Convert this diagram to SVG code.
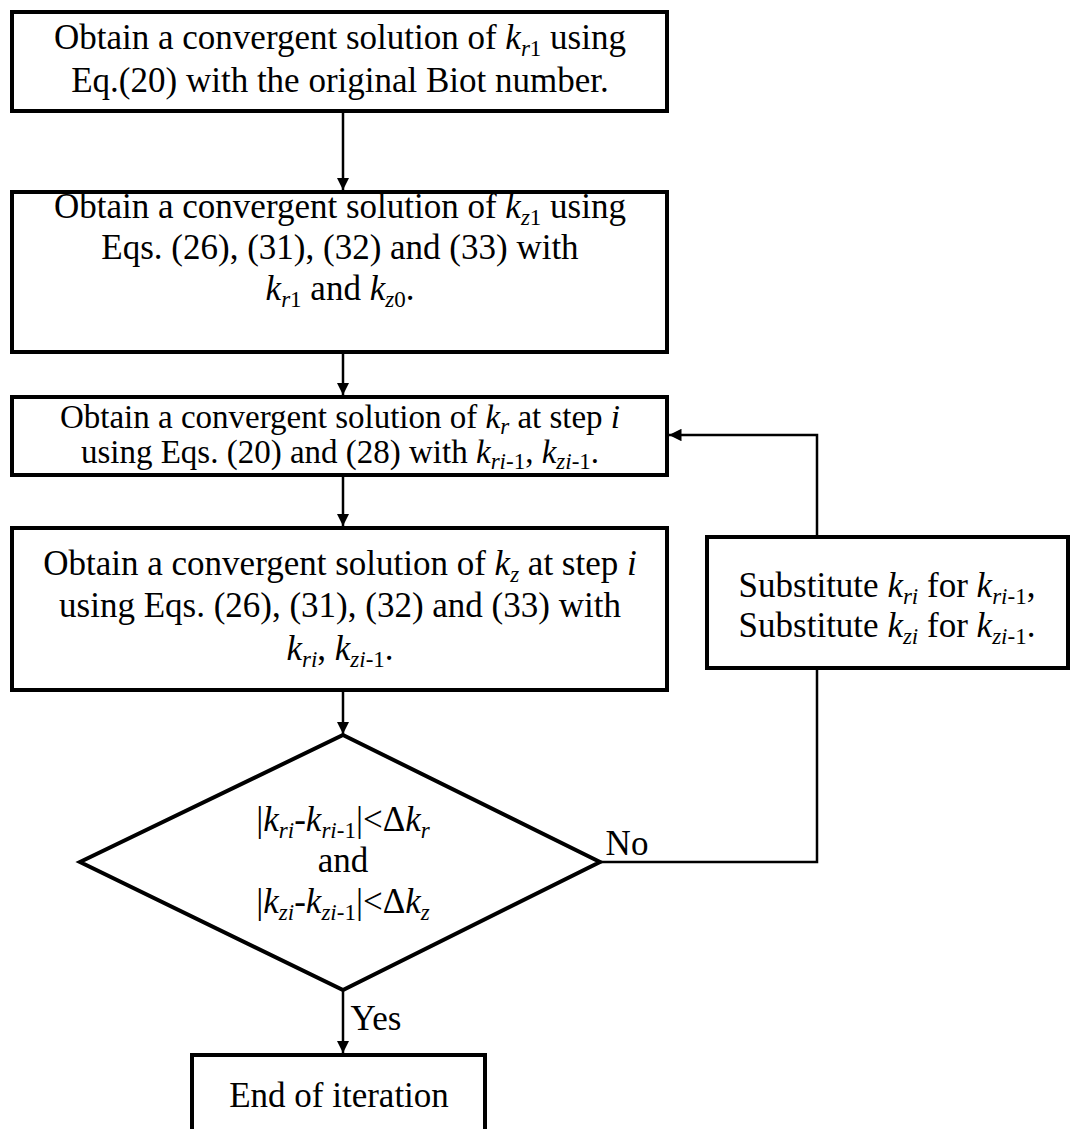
<svg xmlns="http://www.w3.org/2000/svg" width="1071" height="1129" viewBox="0 0 1071 1129">
<style>
.box{fill:#fff;stroke:#000;stroke-width:4}
.ln{fill:none;stroke:#000;stroke-width:2.5}
.t{font-family:"Liberation Serif",Tinos,"Nimbus Roman","Nimbus Roman No9 L",FreeSerif,"Noto Serif","DejaVu Serif","Times New Roman",Times,serif;font-size:35px;fill:#000;text-anchor:middle}
.t3{font-size:33px}
.i{font-style:italic}
.s{font-size:23px}
</style>
<defs>
<marker id="ah" viewBox="0 0 10 10" refX="10" refY="5" markerWidth="5" markerHeight="5" markerUnits="strokeWidth" orient="auto">
<path d="M0,0 L10,5 L0,10 z" fill="#000"/>
</marker>
</defs>
<rect width="1071" height="1129" fill="#fff"/>
<g id="connectors">
<line class="ln" x1="343" y1="111" x2="343" y2="190" marker-end="url(#ah)"/>
<line class="ln" x1="343" y1="352" x2="343" y2="395" marker-end="url(#ah)"/>
<line class="ln" x1="343" y1="475" x2="343" y2="526" marker-end="url(#ah)"/>
<line class="ln" x1="343" y1="690" x2="343" y2="734" marker-end="url(#ah)"/>
<line class="ln" x1="343" y1="990" x2="343" y2="1053" marker-end="url(#ah)"/>
<polyline class="ln" points="600,862 817,862 817,668"/>
<polyline class="ln" points="817,537 817,435 669,435" marker-end="url(#ah)"/>
<text class="t" x="627" y="855">No</text>
<text class="t" x="376" y="1030">Yes</text>
</g>
<g id="n1">
<rect class="box" x="12" y="12" width="655" height="99"/>
<text class="t" x="340" y="49">Obtain a convergent solution of <tspan class="i">k</tspan><tspan class="s" dy="7"><tspan class="i">r</tspan>1</tspan><tspan dy="-7"> using</tspan></text>
<text class="t" x="340" y="92">Eq.(20) with the original Biot number.</text>
</g>
<g id="n2">
<rect class="box" x="12" y="192" width="655" height="160"/>
<text class="t" x="340" y="218">Obtain a convergent solution of <tspan class="i">k</tspan><tspan class="s" dy="7"><tspan class="i">z</tspan>1</tspan><tspan dy="-7"> using</tspan></text>
<text class="t" x="340" y="259">Eqs. (26), (31), (32) and (33) with</text>
<text class="t" x="340" y="300"><tspan class="i">k</tspan><tspan class="s" dy="7"><tspan class="i">r</tspan>1</tspan><tspan dy="-7"> and </tspan><tspan class="i">k</tspan><tspan class="s" dy="7"><tspan class="i">z</tspan>0</tspan><tspan dy="-7">.</tspan></text>
</g>
<g id="n3">
<rect class="box" x="12" y="397" width="655" height="78"/>
<text class="t t3" x="340" y="428">Obtain a convergent solution of <tspan class="i">k</tspan><tspan class="s" dy="6"><tspan class="i">r</tspan></tspan><tspan dy="-6"> at step </tspan><tspan class="i">i</tspan></text>
<text class="t t3" x="340" y="463">using Eqs. (20) and (28) with <tspan class="i">k</tspan><tspan class="s" dy="6"><tspan class="i">ri</tspan>-1</tspan><tspan dy="-6">, </tspan><tspan class="i">k</tspan><tspan class="s" dy="6"><tspan class="i">zi</tspan>-1</tspan><tspan dy="-6">.</tspan></text>
</g>
<g id="n4">
<rect class="box" x="12" y="528" width="655" height="162"/>
<text class="t" x="340" y="575">Obtain a convergent solution of <tspan class="i">k</tspan><tspan class="s i" dy="7">z</tspan><tspan dy="-7"> at step </tspan><tspan class="i">i</tspan></text>
<text class="t" x="340" y="617">using Eqs. (26), (31), (32) and (33) with</text>
<text class="t" x="340" y="660"><tspan class="i">k</tspan><tspan class="s i" dy="7">ri</tspan><tspan dy="-7">, </tspan><tspan class="i">k</tspan><tspan class="s" dy="7"><tspan class="i">zi</tspan>-1</tspan><tspan dy="-7">.</tspan></text>
</g>
<g id="n5">
<polygon class="box" points="343,735 600,862 343,990 80,862"/>
<text class="t" x="343" y="831">|<tspan class="i">k</tspan><tspan class="s i" dy="7">ri</tspan><tspan dy="-7">-</tspan><tspan class="i">k</tspan><tspan class="s" dy="7"><tspan class="i">ri</tspan>-1</tspan><tspan dy="-7">|&lt;Δ</tspan><tspan class="i">k</tspan><tspan class="s i" dy="7">r</tspan></text>
<text class="t" x="343" y="872">and</text>
<text class="t" x="343" y="913">|<tspan class="i">k</tspan><tspan class="s i" dy="7">zi</tspan><tspan dy="-7">-</tspan><tspan class="i">k</tspan><tspan class="s" dy="7"><tspan class="i">zi</tspan>-1</tspan><tspan dy="-7">|&lt;Δ</tspan><tspan class="i">k</tspan><tspan class="s i" dy="7">z</tspan></text>
</g>
<g id="n6">
<rect class="box" x="707" y="537" width="361" height="131"/>
<text class="t" x="887" y="597">Substitute <tspan class="i">k</tspan><tspan class="s i" dy="7">ri</tspan><tspan dy="-7"> for </tspan><tspan class="i">k</tspan><tspan class="s" dy="7"><tspan class="i">ri</tspan>-1</tspan><tspan dy="-7">,</tspan></text>
<text class="t" x="887" y="637">Substitute <tspan class="i">k</tspan><tspan class="s i" dy="7">zi</tspan><tspan dy="-7"> for </tspan><tspan class="i">k</tspan><tspan class="s" dy="7"><tspan class="i">zi</tspan>-1</tspan><tspan dy="-7">.</tspan></text>
</g>
<g id="n7">
<rect class="box" x="192" y="1055" width="293" height="100"/>
<text class="t" x="339" y="1107">End of iteration</text>
</g>
</svg>
